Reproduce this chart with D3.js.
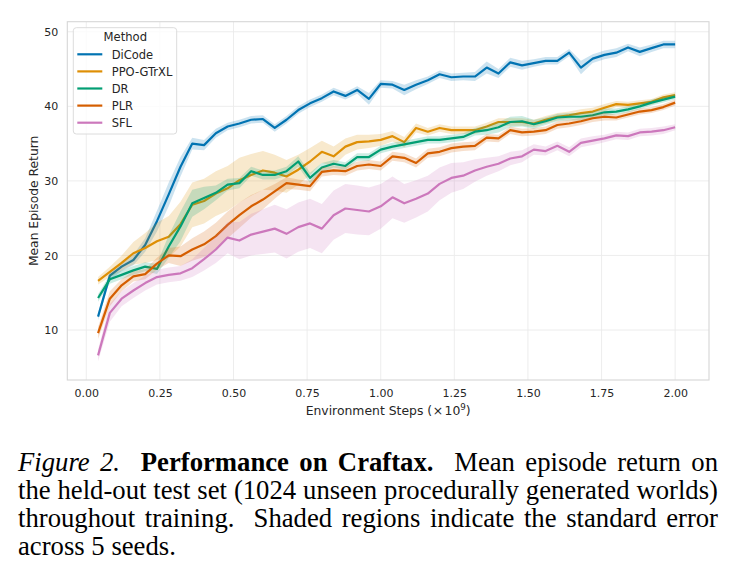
<!DOCTYPE html>
<html>
<head>
<meta charset="utf-8">
<script src="https://cdn.jsdelivr.net/npm/d3@7"></script>
<style>
  body { margin: 0; background: #fff; }
  #caption {
    position: absolute; left: 18px; top: 448px; width: 700px;
    font-family: "Liberation Serif", "Times New Roman", serif;
    font-size: 26.7px; line-height: 28px; color: #000;
  }
  #caption .ln { display: inline-block; white-space: nowrap; transform-origin: 0 0; }
</style>
</head>
<body>
<div id="chart"></div>
<div id="caption">
  <span class="ln"><i>Figure 2.</i>&nbsp; <b>Performance on Craftax.</b>&nbsp; Mean episode return on</span><br>
  <span class="ln">the held-out test set (1024 unseen procedurally generated worlds)</span><br>
  <span class="ln">throughout training.&nbsp; Shaded regions indicate the standard error</span><br>
  <span class="ln last">across 5 seeds.</span>
</div>
<script>
// environment steps (x 10^9)
const steps = [0.04,0.08,0.12,0.16,0.20,0.24,0.28,0.32,0.36,0.40,
  0.44,0.48,0.52,0.56,0.60,0.64,0.68,0.72,0.76,0.80,
  0.84,0.88,0.92,0.96,1.00,1.04,1.08,1.12,1.16,1.20,
  1.24,1.28,1.32,1.36,1.40,1.44,1.48,1.52,1.56,1.60,
  1.64,1.68,1.72,1.76,1.80,1.84,1.88,1.92,1.96,2.00];

const methods = ["DiCode", "PPO-GTrXL", "DR", "PLR", "SFL"];
const colors = ["#0173b2", "#de8f05", "#029e73", "#d55e00", "#cc78bc"];

// mean episode return
const dicode = [11.8,17.3,18.5,19.4,21.4,24.6,28.2,31.9,35.0,34.8,
  36.4,37.3,37.7,38.2,38.3,37.1,38.2,39.5,40.4,41.1,
  42.0,41.4,42.2,41.0,43.0,42.9,42.2,42.9,43.5,44.3,
  43.9,44.0,44.0,45.2,44.4,45.9,45.5,45.8,46.1,46.1,
  47.2,45.2,46.4,46.9,47.2,47.9,47.3,47.8,48.3,48.3];
const ppo = [16.6,17.8,19.0,20.3,21.0,21.9,22.5,24.2,26.8,27.3,
  28.3,29.0,30.1,30.8,31.4,31.1,30.6,31.5,32.6,33.9,
  33.3,34.6,35.2,35.3,35.5,36.0,35.2,37.1,36.6,37.1,
  36.8,36.8,36.8,37.3,37.9,37.9,37.9,37.7,38.2,38.6,
  38.8,39.1,39.3,39.8,40.3,40.2,40.4,40.6,41.2,41.5];
const dr = [14.3,16.8,17.4,18.0,18.5,18.2,21.2,23.9,27.0,27.7,
  28.4,29.5,29.7,31.3,30.8,30.8,31.3,32.6,30.4,31.8,
  32.3,32.0,33.2,33.2,34.2,34.6,34.9,35.2,35.5,35.5,
  35.7,35.9,36.6,36.8,37.2,37.9,38.0,37.6,38.0,38.5,
  38.6,38.6,38.8,39.2,39.3,39.6,40.0,40.5,40.9,41.3];
const plr = [9.6,14.2,16.0,17.2,17.5,18.9,20.0,19.9,20.8,21.5,
  22.6,24.1,25.4,26.6,27.5,28.6,29.7,29.5,29.3,31.2,
  31.4,31.3,32.0,32.2,32.0,33.3,33.1,32.4,33.7,33.9,
  34.4,34.6,34.7,35.8,35.7,36.8,36.5,36.6,36.8,37.5,
  37.7,38.0,38.4,38.6,38.5,38.9,39.3,39.5,39.9,40.5];
const sfl = [6.6,12.3,14.2,15.3,16.3,17.1,17.4,17.6,18.3,19.5,
  20.8,22.4,22.0,22.8,23.2,23.6,22.9,23.8,24.3,23.6,
  25.4,26.3,26.1,25.9,26.6,27.8,27.0,27.6,28.3,29.6,
  30.4,30.7,31.4,31.9,32.3,33.0,33.3,34.2,34.0,34.7,
  33.9,35.1,35.4,35.7,36.1,36.0,36.5,36.6,36.8,37.2];

// standard error across seeds
const dicodeErr = [0.5,0.6,0.6,0.7,0.9,1.4,1.6,1.3,0.8,0.7,
  0.6,0.5,0.5,0.5,0.5,0.5,0.5,0.5,0.5,0.5,
  0.5,0.5,0.5,0.8,0.5,0.5,0.7,0.6,0.5,0.5,
  0.5,0.5,0.6,0.8,0.6,0.6,0.6,0.5,0.5,0.5,
  0.5,0.9,0.6,0.6,0.6,0.5,0.6,0.5,0.5,0.5];
const ppoErr = [0.5,0.7,1.0,1.5,2.0,2.5,2.8,3.0,3.0,3.0,
  3.0,3.0,3.0,2.8,2.6,2.4,2.2,2.0,1.8,1.5,
  1.3,1.1,1.0,0.9,0.8,0.7,0.7,0.6,0.5,0.5,
  0.5,0.5,0.5,0.5,0.5,0.5,0.5,0.5,0.5,0.5,
  0.5,0.5,0.5,0.5,0.4,0.4,0.4,0.4,0.4,0.4];
const drErr = [0.5,0.6,0.6,0.6,0.6,0.7,1.5,2.0,1.8,1.5,
  1.0,0.8,0.7,0.6,0.6,0.6,0.6,0.7,0.7,0.6,
  0.5,0.5,0.5,0.5,0.5,0.5,0.5,0.5,0.5,0.5,
  0.5,0.5,0.5,0.6,0.7,0.7,0.7,0.6,0.5,0.5,
  0.5,0.5,0.5,0.5,0.4,0.4,0.4,0.4,0.4,0.4];
const plrErr = [0.8,1.0,0.8,0.7,0.7,0.8,1.0,1.3,1.5,1.7,
  1.8,1.8,1.7,1.5,1.3,1.0,0.8,0.7,0.7,0.6,
  0.6,0.6,0.6,0.6,0.6,0.6,0.6,0.6,0.6,0.6,
  0.6,0.6,0.6,0.5,0.5,0.5,0.5,0.5,0.5,0.5,
  0.5,0.5,0.5,0.5,0.4,0.4,0.4,0.4,0.4,0.4];
const sflErr = [0.8,1.2,1.0,1.0,1.0,1.0,1.0,1.0,1.2,1.5,
  1.8,2.1,2.5,2.8,3.0,3.2,3.3,3.3,3.3,3.3,
  3.3,3.3,3.3,3.2,3.0,2.8,2.6,2.5,2.4,2.2,
  2.0,1.8,1.5,1.2,1.0,0.9,0.8,0.7,0.6,0.6,
  0.6,0.6,0.6,0.5,0.5,0.5,0.5,0.5,0.5,0.4];

const xTicks = [0, 0.25, 0.5, 0.75, 1.0, 1.25, 1.5, 1.75, 2.0];
const yTicks = [10, 20, 30, 40, 50];

const series = [dicode, ppo, dr, plr, sfl];
const errors = [dicodeErr, ppoErr, drErr, plrErr, sflErr];

const width = 737, height = 430;
const margin = { left: 67.3, top: 21.7, right: 28, bottom: 50 };
const font = "'DejaVu Sans', sans-serif";
const textColor = "#262626";

const svg = d3.select("#chart").append("svg")
  .attr("width", width)
  .attr("height", height)
  .style("display", "block");

const x = d3.scaleLinear().domain([-0.0645, 2.115]).range([margin.left, width - margin.right]);
const y = d3.scaleLinear().domain([3.3, 51.35]).range([height - margin.bottom, margin.top]);

// grid
svg.append("g").selectAll("line").data(xTicks).enter().append("line")
  .attr("x1", d => x(d)).attr("x2", d => x(d))
  .attr("y1", y.range()[0]).attr("y2", y.range()[1])
  .attr("stroke", "#ebebeb").attr("stroke-width", 0.9);
svg.append("g").selectAll("line").data(yTicks).enter().append("line")
  .attr("y1", d => y(d)).attr("y2", d => y(d))
  .attr("x1", x.range()[0]).attr("x2", x.range()[1])
  .attr("stroke", "#ebebeb").attr("stroke-width", 0.9);

// bands + lines
const area = d3.area()
  .x(d => x(d.x))
  .y0(d => y(d.v - d.e))
  .y1(d => y(d.v + d.e));
const line = d3.line().x(d => x(d.x)).y(d => y(d.v));

series.forEach((vals, i) => {
  const pts = vals.map((v, j) => ({ x: steps[j], v: v, e: errors[i][j] }));
  svg.append("path").datum(pts)
    .attr("d", area)
    .attr("fill", colors[i])
    .attr("fill-opacity", 0.2);
  svg.append("path").datum(pts)
    .attr("d", line)
    .attr("fill", "none")
    .attr("stroke", colors[i])
    .attr("stroke-width", 2.2)
    .attr("stroke-linejoin", "round");
});

// frame
svg.append("rect")
  .attr("x", x.range()[0]).attr("y", y.range()[1])
  .attr("width", x.range()[1] - x.range()[0])
  .attr("height", y.range()[0] - y.range()[1])
  .attr("fill", "none").attr("stroke", "#d6d6d6").attr("stroke-width", 1.1);

// axes
const xAxis = svg.append("g")
  .attr("transform", `translate(0,${y.range()[0]})`)
  .call(d3.axisBottom(x).tickValues(xTicks).tickFormat(d3.format(".2f")).tickSize(0).tickPadding(9));
const yAxis = svg.append("g")
  .attr("transform", `translate(${x.range()[0]},0)`)
  .call(d3.axisLeft(y).tickValues(yTicks).tickSize(0).tickPadding(9));
[xAxis, yAxis].forEach(g => {
  g.select(".domain").remove();
  g.selectAll("text").attr("font-family", font).attr("font-size", 11).attr("fill", textColor);
});

// x label with mathtext-like spacing
const xl = svg.append("text")
  .attr("x", (x.range()[0] + x.range()[1]) / 2)
  .attr("y", 415)
  .attr("text-anchor", "middle")
  .attr("font-family", font).attr("font-size", 12.4).attr("fill", textColor);
xl.append("tspan").text("Environment Steps (");
xl.append("tspan").attr("dx", 0.5).text("×");
xl.append("tspan").attr("dx", 1.5).text("10");
xl.append("tspan").attr("dy", -5).attr("font-size", 8.7).text("9");
xl.append("tspan").attr("dy", 5).text(")");

svg.append("text")
  .attr("transform", `translate(38,${(y.range()[0] + y.range()[1]) / 2}) rotate(-90)`)
  .attr("text-anchor", "middle")
  .attr("font-family", font).attr("font-size", 12.3).attr("fill", textColor)
  .text("Mean Episode Return");

// legend
const legend = svg.append("g").attr("transform", "translate(73.3,27.7)");
legend.append("rect")
  .attr("width", 103.4).attr("height", 106.3)
  .attr("rx", 3)
  .attr("fill", "#fff").attr("fill-opacity", 0.8)
  .attr("stroke", "#dcdcdc").attr("stroke-width", 1);
legend.append("text")
  .attr("x", 52).attr("y", 13.5)
  .attr("text-anchor", "middle")
  .attr("font-family", font).attr("font-size", 11.6).attr("fill", textColor)
  .text("Method");
methods.forEach((m, i) => {
  const row = legend.append("g").attr("transform", `translate(0,${26.6 + i * 17.1})`);
  row.append("line")
    .attr("x1", 4).attr("x2", 29)
    .attr("stroke", colors[i]).attr("stroke-width", 2.2);
  row.append("text")
    .attr("x", 38.4).attr("y", 4.2)
    .attr("font-family", font).attr("font-size", 11.5).attr("fill", textColor)
    .text(m);
});

// justify caption lines to the column width
const colW = 700;
document.querySelectorAll("#caption .ln").forEach(el => {
  if (el.classList.contains("last")) return;
  const w = el.getBoundingClientRect().width;
  const gaps = (el.textContent.match(/[ \u00a0]/g) || []).length;
  if (w < colW && gaps > 0) {
    el.style.wordSpacing = ((colW - w) / gaps) + "px";
  } else if (w > colW) {
    el.style.transform = `scaleX(${colW / w})`;
  }
});
</script>
</body>
</html>
